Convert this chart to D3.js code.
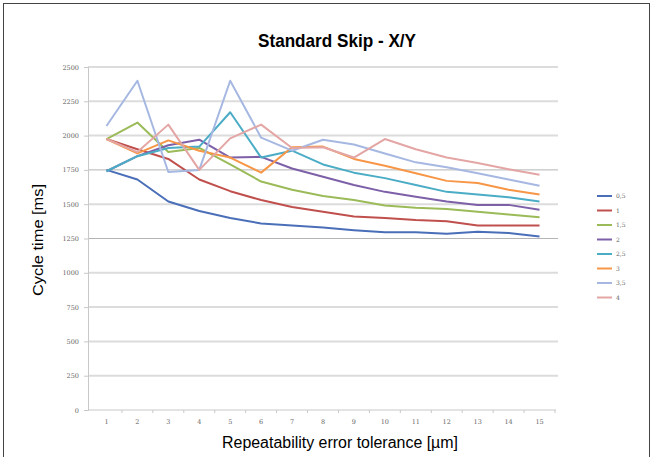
<!DOCTYPE html>
<html>
<head>
<meta charset="utf-8">
<script src="https://cdn.jsdelivr.net/npm/d3@7"></script>
<style>
  body { margin: 0; background: #fff; }
  .narrow { font-family: "Liberation Sans", Arial, sans-serif; }
</style>
</head>
<body>
<div id="chart"></div>
<script>
// chart data
var categories = [1, 2, 3, 4, 5, 6, 7, 8, 9, 10, 11, 12, 13, 14, 15];
var seriesNames = ["0,5", "1", "1,5", "2", "2,5", "3", "3,5", "4"];
var s05 = [1750, 1680, 1520, 1450, 1400, 1360, 1345, 1330, 1310, 1295, 1295, 1285, 1300, 1290, 1265];
var s1  = [1975, 1900, 1830, 1680, 1595, 1530, 1480, 1445, 1410, 1400, 1385, 1375, 1345, 1345, 1345];
var s15 = [1975, 2095, 1880, 1910, 1790, 1665, 1605, 1560, 1530, 1490, 1475, 1465, 1445, 1425, 1405];
var s2  = [1740, 1850, 1930, 1970, 1840, 1845, 1760, 1700, 1640, 1590, 1555, 1520, 1495, 1495, 1460];
var s25 = [1740, 1850, 1910, 1920, 2170, 1840, 1890, 1790, 1730, 1690, 1640, 1590, 1570, 1550, 1520];
var s3  = [1975, 1870, 1965, 1890, 1840, 1730, 1915, 1920, 1830, 1780, 1725, 1670, 1655, 1605, 1570];
var s35 = [2070, 2400, 1735, 1750, 2400, 1985, 1890, 1970, 1935, 1870, 1805, 1770, 1725, 1680, 1635];
var s4  = [1975, 1880, 2080, 1750, 1980, 2080, 1910, 1915, 1840, 1975, 1900, 1840, 1800, 1755, 1715];
var yTicks = [0, 250, 500, 750, 1000, 1250, 1500, 1750, 2000, 2250, 2500];

var allSeries = [s05, s1, s15, s2, s25, s3, s35, s4];
var colors = ["#4a6fb8", "#c0504d", "#9bbb59", "#7d60a8", "#4bacc6", "#f79646", "#a6b8e2", "#e3a6a4"];

var width = 653, height = 457;
var margin = {top: 67, right: 98, bottom: 47, left: 88};

var svg = d3.select("#chart")
  .append("svg")
  .attr("width", width)
  .attr("height", height);

// outer frame
svg.append("rect")
  .attr("x", 3.5).attr("y", 3.5)
  .attr("width", width - 7).attr("height", height)
  .attr("fill", "none")
  .attr("stroke", "#444")
  .attr("stroke-width", 1);

var x = d3.scaleBand()
  .domain(categories)
  .range([margin.left + 3, width - margin.right]);

var y = d3.scaleLinear()
  .domain([0, 2500])
  .range([height - margin.bottom, margin.top]);

// gridlines
svg.append("g")
  .selectAll("line")
  .data(yTicks.filter(function(d) { return d > 0; }))
  .enter()
  .append("line")
  .attr("x1", margin.left)
  .attr("x2", width - margin.right + 3)
  .attr("y1", function(d) { return y(d); })
  .attr("y2", function(d) { return y(d); })
  .attr("stroke", function(d) { return (d == 1250 || d == 1750) ? "#b4b4b4" : "#dcdcdc"; })
  .attr("stroke-width", function(d) { return (d == 1250 || d == 1750) ? 1 : 2; });

// y axis
var yAxis = svg.append("g")
  .attr("transform", "translate(" + margin.left + ",0)")
  .call(d3.axisLeft(y).tickValues(yTicks).tickFormat(d3.format("d")).tickSize(4).tickPadding(5));
yAxis.select(".domain").attr("stroke", "#c8c8c8");
yAxis.selectAll(".tick line").attr("stroke", "#c8c8c8");
yAxis.selectAll("text")
  .attr("fill", "#666")
  .style("font-family", "DejaVu Serif, serif")
  .style("font-size", "6.5px");

// x axis
var xAxis = svg.append("g")
  .attr("transform", "translate(0," + y(0) + ")")
  .call(d3.axisBottom(x).tickSize(0).tickPadding(9));
xAxis.select(".domain").attr("stroke", "#c8c8c8").attr("d", "M" + margin.left + ",0H" + (width - margin.right + 1));
xAxis.selectAll("text")
  .attr("fill", "#666")
  .style("font-family", "DejaVu Serif, serif")
  .style("font-size", "6.5px");
// small ticks between categories
svg.append("g")
  .selectAll("line")
  .data(categories)
  .enter()
  .append("line")
  .attr("x1", function(d) { return x(d) + x.bandwidth(); })
  .attr("x2", function(d) { return x(d) + x.bandwidth(); })
  .attr("y1", y(0))
  .attr("y2", y(0) + 3)
  .attr("stroke", "#c8c8c8");

// lines
var line = d3.line()
  .x(function(d, i) { return x(categories[i]) + x.bandwidth() / 2; })
  .y(function(d) { return y(d); });

svg.append("g")
  .selectAll("path")
  .data(allSeries)
  .enter()
  .append("path")
  .attr("d", line)
  .attr("fill", "none")
  .attr("stroke", function(d, i) { return colors[i]; })
  .attr("stroke-width", 2)
  .attr("stroke-linejoin", "round");

// legend
var legend = svg.append("g")
  .selectAll("g")
  .data(seriesNames)
  .enter()
  .append("g")
  .attr("transform", function(d, i) { return "translate(597," + (196 + i * 14.5) + ")"; });
legend.append("line")
  .attr("x1", 0).attr("x2", 15)
  .attr("stroke", function(d, i) { return colors[i]; })
  .attr("stroke-width", 2);
legend.append("text")
  .attr("x", 19)
  .attr("dy", "0.35em")
  .attr("fill", "#666")
  .style("font-family", "DejaVu Serif, serif")
  .style("font-size", "6px")
  .text(function(d) { return d; });

// titles (condensed look via textLength)
svg.append("text")
  .attr("class", "narrow")
  .attr("x", 337).attr("y", 47)
  .attr("text-anchor", "middle")
  .attr("textLength", 158)
  .attr("lengthAdjust", "spacingAndGlyphs")
  .style("font-size", "19px")
  .style("font-weight", "bold")
  .text("Standard Skip - X/Y");

svg.append("text")
  .attr("class", "narrow")
  .attr("transform", "translate(43,240) rotate(-90)")
  .attr("text-anchor", "middle")
  .attr("textLength", 112)
  .attr("lengthAdjust", "spacingAndGlyphs")
  .style("font-size", "15px")
  .text("Cycle time [ms]");

svg.append("text")
  .attr("class", "narrow")
  .attr("x", 340).attr("y", 448)
  .attr("text-anchor", "middle")
  .attr("textLength", 236)
  .attr("lengthAdjust", "spacingAndGlyphs")
  .style("font-size", "16px")
  .text("Repeatability error tolerance [µm]");
</script>
</body>
</html>
